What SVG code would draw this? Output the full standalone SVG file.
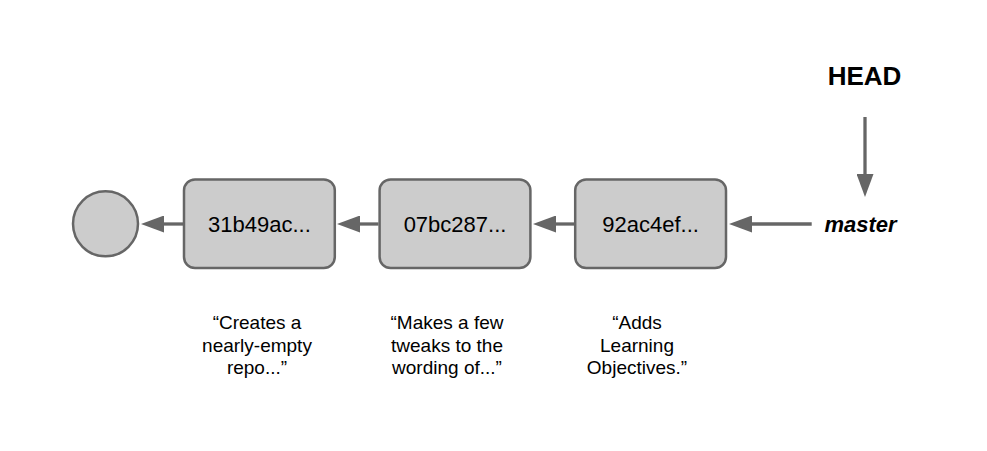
<svg xmlns="http://www.w3.org/2000/svg" width="987" height="451" viewBox="0 0 987 451">
<style>
.node{fill:#cccccc;stroke:#666666;stroke-width:2.5}
.lbl{font-family:"Liberation Sans",Arial,sans-serif;font-size:22px;fill:#000;text-anchor:middle}
.cmt{font-family:"Liberation Sans",Arial,sans-serif;font-size:19px;fill:#000;text-anchor:middle}
.ref{font-family:"Liberation Sans",Arial,sans-serif;font-weight:bold;fill:#000}
.edge{stroke:#666666;stroke-width:3.3;fill:none;marker-end:url(#ah)}
</style>
<defs>
<marker id="ah" markerUnits="userSpaceOnUse" markerWidth="23" markerHeight="17" refX="1" refY="8.5" orient="auto" viewBox="0 0 23 17">
<path d="M0,0 L23,8.5 L0,17 z" fill="#666666"/>
</marker>
</defs>
<rect width="987" height="451" fill="#ffffff"/>
<g id="connectors">
<line class="edge" x1="811.7" y1="224" x2="751" y2="224"/>
<line class="edge" x1="574" y1="224" x2="555" y2="224"/>
<line class="edge" x1="378.5" y1="224" x2="359" y2="224"/>
<line class="edge" x1="183" y1="224" x2="163" y2="224"/>
<line class="edge" x1="865" y1="117" x2="865" y2="175"/>
</g>
<g id="root">
<circle class="node" cx="105.5" cy="223.8" r="32.5"/>
</g>
<g id="c31b49ac">
<rect class="node" x="184" y="179.5" width="150.8" height="88.5" rx="11"/>
<text class="lbl" x="259.4" y="232">31b49ac...</text>
</g>
<g id="c07bc287">
<rect class="node" x="379.6" y="179.5" width="150.8" height="88.5" rx="11"/>
<text class="lbl" x="455" y="232">07bc287...</text>
</g>
<g id="c92ac4ef">
<rect class="node" x="575.2" y="179.5" width="150.8" height="88.5" rx="11"/>
<text class="lbl" x="650.6" y="232">92ac4ef...</text>
</g>
<g id="master">
<text class="ref" x="860.5" y="231.7" font-size="22" font-style="italic" text-anchor="middle">master</text>
</g>
<g id="head">
<text class="ref" x="864.5" y="85" font-size="26" text-anchor="middle">HEAD</text>
</g>
<g id="msg1">
<text class="cmt" x="257" y="329">“Creates a</text>
<text class="cmt" x="257" y="351.5">nearly-empty</text>
<text class="cmt" x="257" y="374">repo...”</text>
</g>
<g id="msg2">
<text class="cmt" x="447" y="329">“Makes a few</text>
<text class="cmt" x="447" y="351.5">tweaks to the</text>
<text class="cmt" x="447" y="374">wording of...”</text>
</g>
<g id="msg3">
<text class="cmt" x="637" y="329">“Adds</text>
<text class="cmt" x="637" y="351.5">Learning</text>
<text class="cmt" x="637" y="374">Objectives.”</text>
</g>
</svg>
